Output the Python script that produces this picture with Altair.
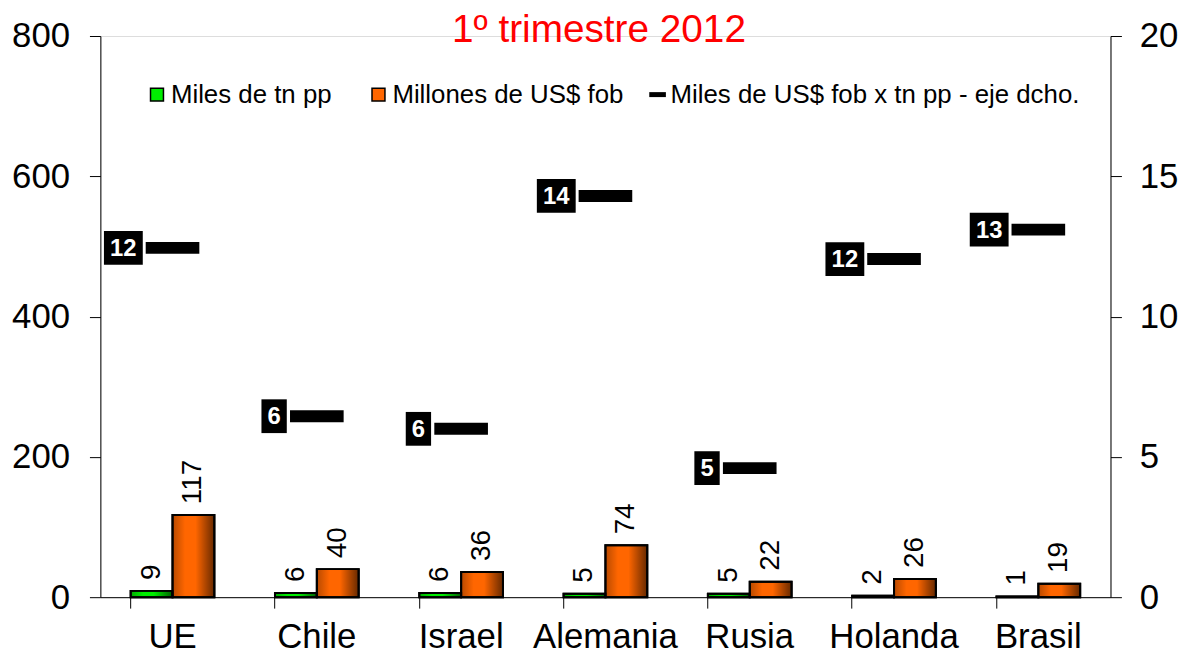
import altair as alt
import pandas as pd

# ---- data ----
paises = ["UE", "Chile", "Israel", "Alemania", "Rusia", "Holanda", "Brasil"]
miles_tn_pp = [9, 6, 6, 5, 5, 2, 1]
millones_usd_fob = [117, 40, 36, 74, 22, 26, 19]
miles_usd_x_tn = [12.45, 6.45, 6.0, 14.3, 4.6, 12.05, 13.1]

serie_tn = "Miles de tn pp"
serie_usd = "Millones de US$ fob"
serie_ratio = "Miles de US$ fob x tn pp - eje dcho."
series_barras = [serie_tn, serie_usd]
titulo = "1º trimestre 2012"

FONT = "Liberation Sans"

bars_df = pd.DataFrame({
    "pais": paises * 2,
    "serie": [serie_tn] * len(paises) + [serie_usd] * len(paises),
    "valor": miles_tn_pp + millones_usd_fob,
})
ratio_df = pd.DataFrame({
    "pais": paises,
    "serie": [serie_ratio] * len(paises),
    "ratio": miles_usd_x_tn,
})
ratio_df["digitos"] = [len(f"{v:.0f}") for v in miles_usd_x_tn]

x_enc = alt.X(
    "pais:N", sort=paises, title=None,
    scale=alt.Scale(paddingInner=0.42, paddingOuter=0.21),
    axis=alt.Axis(labelAngle=0, labelFontSize=35, labelFont=FONT, labelColor="black",
                  tickSize=11, tickColor="black", domainColor="black", tickWidth=1,
                  bandPosition=0, labelPadding=12),
)
y_left = alt.Y(
    "valor:Q", title=None,
    scale=alt.Scale(domain=[0, 800], nice=False),
    axis=alt.Axis(values=[0, 200, 400, 600, 800], labelFontSize=35, labelFont=FONT,
                  labelColor="black", tickSize=11, tickColor="black", domainColor="black",
                  grid=False, labelPadding=20, orient="left"),
)
y_right = alt.Y(
    "ratio:Q", title=None,
    scale=alt.Scale(domain=[0, 20], nice=False),
    axis=alt.Axis(values=[0, 5, 10, 15, 20], labelFontSize=35, labelFont=FONT,
                  labelColor="black", tickSize=11, tickColor="black", domainColor="black",
                  grid=False, labelPadding=18, orient="right"),
)
xoff = alt.XOffset("serie:N", sort=series_barras)

base_bars = alt.Chart(bars_df)

bars = base_bars.mark_bar(stroke="black", strokeWidth=2).encode(
    x=x_enc, xOffset=xoff, y=y_left,
    color=alt.Color(
        "serie:N", sort=series_barras,
        scale=alt.Scale(domain=series_barras, range=["#00ee00", "#ff6600"]),
        legend=alt.Legend(
            title=None, orient="none", legendX=44, legendY=46, direction="horizontal",
            symbolType="square", symbolSize=170, symbolStrokeColor="black",
            symbolStrokeWidth=1.5, labelFontSize=26, labelFont=FONT, labelColor="black",
            labelLimit=600, columnPadding=34, labelOffset=1, padding=0,
        ),
    ),
)

shade = base_bars.mark_bar(
    stroke="black", strokeWidth=2,
    color=alt.LinearGradient(
        gradient="linear", x1=0, x2=1, y1=0, y2=0,
        stops=[
            alt.GradientStop(offset=0, color="rgba(0,0,0,0.28)"),
            alt.GradientStop(offset=0.3, color="rgba(0,0,0,0)"),
            alt.GradientStop(offset=0.55, color="rgba(0,0,0,0)"),
            alt.GradientStop(offset=1, color="rgba(0,0,0,0.6)"),
        ],
    ),
).encode(x=x_enc, xOffset=xoff, y=y_left)

bar_labels = base_bars.mark_text(
    angle=270, align="left", baseline="middle", dx=11, fontSize=28, font=FONT, color="black"
).encode(x=x_enc, xOffset=xoff, y=y_left, text=alt.Text("valor:Q", format=".0f"))

title_df = pd.DataFrame({"t": [titulo]})
title_txt = alt.Chart(title_df).mark_text(
    fontSize=39, font=FONT, color="red", align="center", baseline="middle"
).encode(text="t:N", x=alt.value(502), y=alt.value(-6))

left = alt.layer(bars, shade, bar_labels, title_txt)

base_ratio = alt.Chart(ratio_df)

ticks = base_ratio.mark_tick(thickness=12, size=54, opacity=1).encode(
    x=x_enc, y=y_right,
    color=alt.Color(
        "serie:N",
        scale=alt.Scale(domain=[serie_ratio], range=["black"]),
        legend=alt.Legend(
            title=None, orient="none", legendX=548, legendY=46,
            symbolType="stroke", symbolSize=280, symbolStrokeColor="black",
            symbolStrokeWidth=5, labelFontSize=26, labelFont=FONT, labelColor="black",
            labelLimit=600, labelOffset=0, padding=0,
        ),
    ),
)


def caja(ndig, half_w, off):
    sel = base_ratio.transform_filter(alt.datum.digitos == ndig)
    shape = f"M-{half_w},-1H{half_w}V1H-{half_w}Z"
    box = sel.mark_point(shape=shape, size=34 * 34, filled=True, color="black",
                         opacity=1, xOffset=off).encode(x=x_enc, y=y_right)
    txt = sel.mark_text(color="white", fontWeight="bold", fontSize=24, font=FONT,
                        align="center", baseline="middle", dx=off, dy=1).encode(
        x=x_enc, y=y_right, text=alt.Text("ratio:Q", format=".0f"))
    return box, txt


box2, txt2 = caja(2, 1.15, -49.5)
box1, txt1 = caja(1, 0.75, -43)

right = alt.layer(ticks, box2, txt2, box1, txt1)

chart = alt.layer(left, right).resolve_scale(
    y="independent", color="independent"
).properties(
    width=1017, height=565,
    autosize=alt.AutoSizeParams(type="none"),
    padding={"left": 93, "top": 26, "right": 73, "bottom": 55},
).configure_view(stroke=None).configure(background="white")

chart.save("out.html", embed_options={"renderer": "svg", "actions": False})
